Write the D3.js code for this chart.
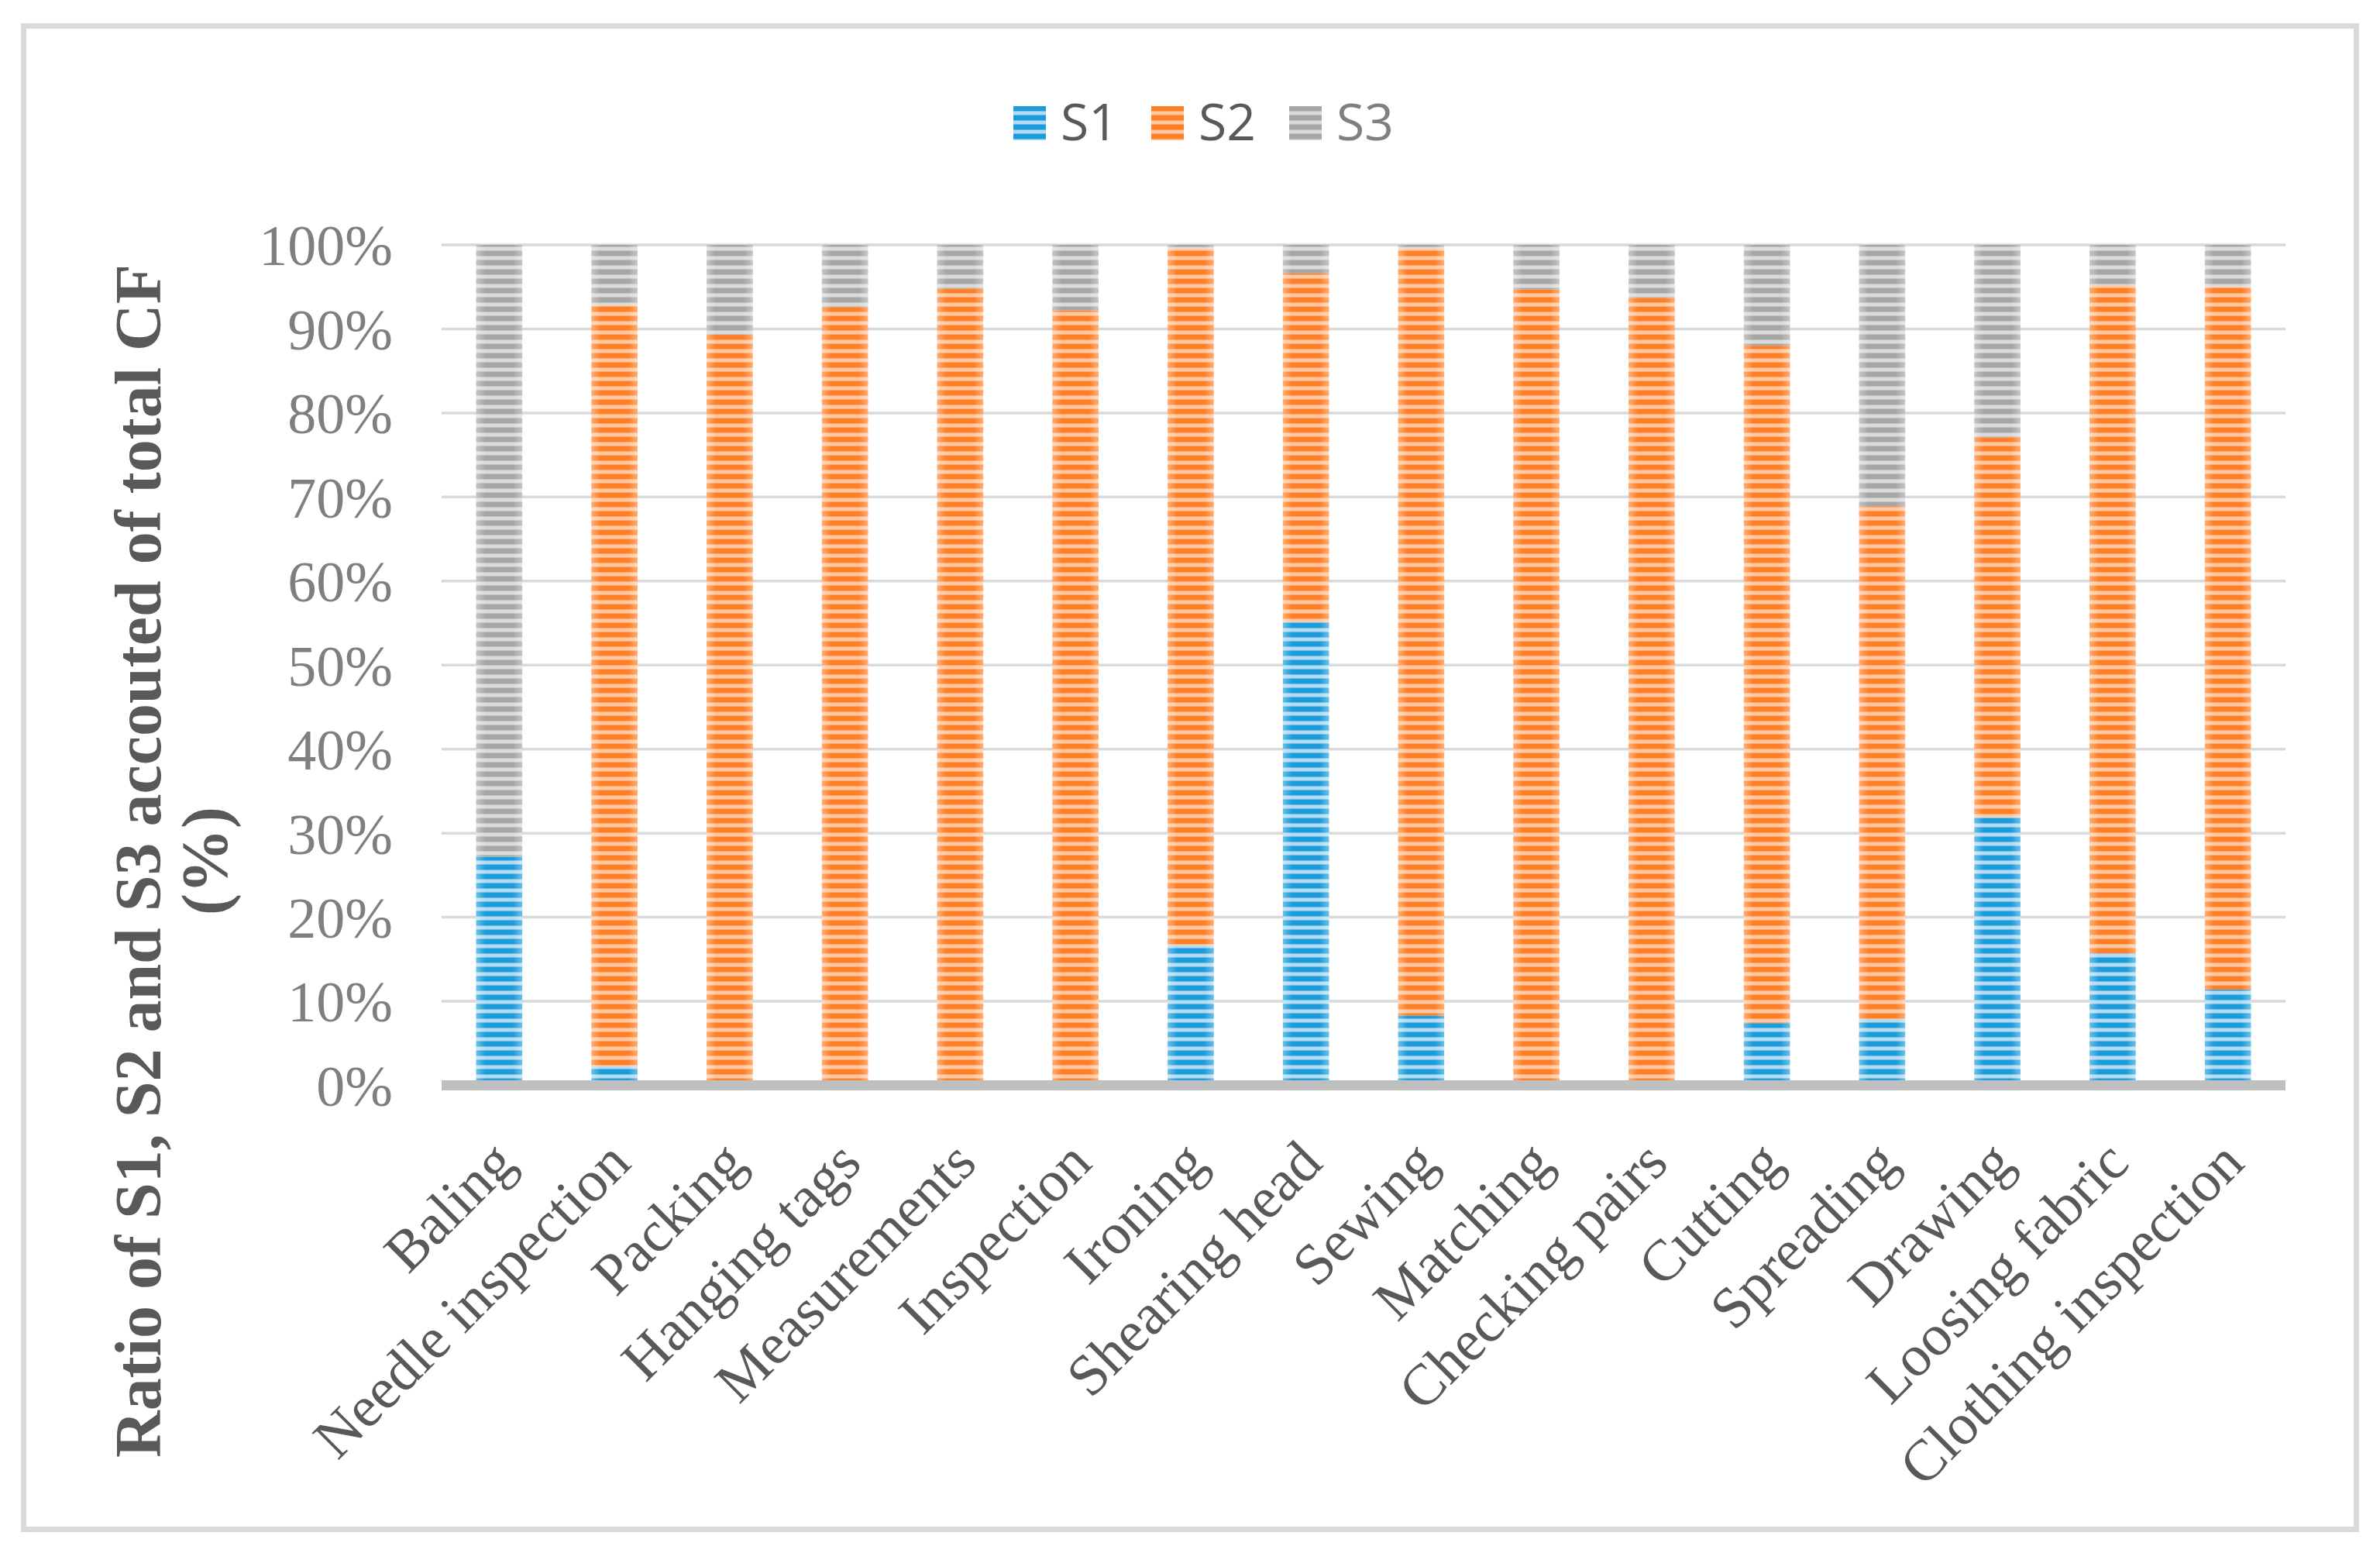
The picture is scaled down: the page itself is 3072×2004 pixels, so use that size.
<!DOCTYPE html>
<html>
<head>
<meta charset="utf-8">
<script src="https://cdn.jsdelivr.net/npm/d3@7"></script>
<style>
  body { margin: 0; background: #fff; }
  svg { display: block; }
</style>
</head>
<body>
<div id="chart"></div>
<script>
// data (percent of total CF)
const categories = ["Baling", "Needle inspection", "Packing", "Hanging tags", "Measurements",
	"Inspection", "Ironing", "Shearing head", "Sewing", "Matching", "Checking pairs",
	"Cutting", "Spreading", "Drawing", "Loosing fabric", "Clothing inspection"];
const s1 = [27.2, 2.3, 0, 0, 0, 0, 16.7, 55.1, 8.3, 0, 0, 7.4, 7.9, 31.9, 15.7, 11.4];
const s2 = [0, 90.5, 89.3, 92.6, 94.8, 92.2, 82.9, 41.5, 91.3, 94.7, 93.7, 80.6, 61.0, 45.2, 79.5, 83.6];
const s3 = [72.8, 7.2, 10.7, 7.4, 5.2, 7.8, 0.4, 3.4, 0.4, 5.3, 6.3, 12.0, 31.1, 22.9, 4.8, 5.0];
const seriesNames = ["S1", "S2", "S3"];
const yTicks = [0, 10, 20, 30, 40, 50, 60, 70, 80, 90, 100];

const width = 3072;
const height = 2004;
const margin = { left: 570, right: 122, top: 316, bottom: 604 };

// stripe colours: [dark, light]
const stripes = {
	S1: ["#1b9ddb", "#b4daf1"],
	S2: ["#ff7f27", "#ffc8a2"],
	S3: ["#a6a6a6", "#dadada"],
};
const legendText = { S1: "#595959", S2: "#595959", S3: "#808080" };

const rows = categories.map((c, i) => ({ cat: c, S1: s1[i], S2: s2[i], S3: s3[i] }));
const stacked = d3.stack().keys(seriesNames)(rows);

const svg = d3.select("#chart").append("svg")
	.attr("width", width)
	.attr("height", height);

const defs = svg.append("defs");
seriesNames.forEach((s) => {
	const p = defs.append("pattern")
		.attr("id", "pat-" + s)
		.attr("patternUnits", "userSpaceOnUse")
		.attr("width", 20)
		.attr("height", 12);
	p.append("rect").attr("width", 20).attr("height", 12).attr("fill", stripes[s][0]);
	p.append("rect").attr("y", 6.5).attr("width", 20).attr("height", 5).attr("fill", stripes[s][1]);
});
// soft left/right edges on the bars
const edge = defs.append("linearGradient").attr("id", "edge").attr("x1", 0).attr("x2", 1);
edge.append("stop").attr("offset", 0).attr("stop-color", "#fff").attr("stop-opacity", 0.35);
edge.append("stop").attr("offset", 0.2).attr("stop-color", "#fff").attr("stop-opacity", 0);
edge.append("stop").attr("offset", 0.8).attr("stop-color", "#fff").attr("stop-opacity", 0);
edge.append("stop").attr("offset", 1).attr("stop-color", "#fff").attr("stop-opacity", 0.35);

// outer border
svg.append("rect")
	.attr("x", 30.5).attr("y", 33.5)
	.attr("width", 3011).attr("height", 1940)
	.attr("fill", "#fff")
	.attr("stroke", "#d9d9d9")
	.attr("stroke-width", 7);

const x = d3.scaleBand()
	.domain(categories)
	.range([margin.left, width - margin.right])
	.paddingInner(0.6)
	.paddingOuter(0.3);

const y = d3.scaleLinear()
	.domain([0, 100])
	.range([1400.5, margin.top]);

// gridlines
svg.append("g")
	.selectAll("line")
	.data(yTicks.slice(1))
	.join("line")
	.attr("x1", margin.left)
	.attr("x2", width - margin.right)
	.attr("y1", (d) => y(d))
	.attr("y2", (d) => y(d))
	.attr("stroke", "#d9d9d9")
	.attr("stroke-width", 3.5);

// y axis labels
const yAxis = svg.append("g")
	.attr("transform", `translate(${margin.left},0)`)
	.call(d3.axisLeft(y).tickValues(yTicks).tickFormat((d) => d + "%").tickSize(0).tickPadding(63));
yAxis.select(".domain").remove();
yAxis.selectAll("text")
	.attr("font-family", "'Liberation Serif', 'Times New Roman', serif")
	.attr("font-size", 74)
	.attr("fill", "#7f7f7f")
	.attr("dy", "0.35em");

// bars
const layers = svg.append("g")
	.selectAll("g")
	.data(stacked)
	.join("g")
	.attr("fill", (d) => `url(#pat-${d.key})`);

layers.selectAll("rect")
	.data((d) => d.filter((v) => v[1] - v[0] > 0))
	.join("rect")
	.attr("x", (d) => x(d.data.cat))
	.attr("width", x.bandwidth())
	.attr("y", (d) => y(d[1]))
	.attr("height", (d) => y(d[0]) - y(d[1]));

svg.append("g")
	.selectAll("rect")
	.data(rows)
	.join("rect")
	.attr("x", (d) => x(d.cat))
	.attr("width", x.bandwidth())
	.attr("y", y(100))
	.attr("height", y(0) - y(100))
	.attr("fill", "url(#edge)");

// x axis baseline
svg.append("line")
	.attr("x1", margin.left)
	.attr("x2", width - margin.right)
	.attr("y1", y(0))
	.attr("y2", y(0))
	.attr("stroke", "#bfbfbf")
	.attr("stroke-width", 13);

// x labels, rotated
svg.append("g")
	.selectAll("text")
	.data(categories)
	.join("text")
	.attr("transform", (d) => `translate(${x(d) + x.bandwidth() / 2 + 24},1504) rotate(-45)`)
	.attr("text-anchor", "end")
	.attr("font-family", "'Liberation Serif', 'Times New Roman', serif")
	.attr("font-size", 75)
	.attr("fill", "#595959")
	.text((d) => d);

// y title
const yTitle = svg.append("text")
	.attr("transform", "translate(207,1111) rotate(-90)")
	.attr("text-anchor", "middle")
	.attr("font-family", "'Liberation Serif', 'Times New Roman', serif")
	.attr("font-weight", "bold")
	.attr("font-size", 84)
	.attr("fill", "#595959");
yTitle.append("tspan").attr("x", 0).attr("dy", 0).text("Ratio of S1, S2 and S3 accouted of total CF");
yTitle.append("tspan").attr("x", 0).attr("dy", 86).text("(%)");

// legend
const legend = svg.append("g")
	.selectAll("g")
	.data(seriesNames)
	.join("g")
	.attr("transform", (d, i) => `translate(${1308 + i * 178},137)`);
legend.append("rect")
	.attr("width", 42)
	.attr("height", 44)
	.attr("fill", (d) => `url(#pat-${d})`);
legend.append("text")
	.attr("x", 61)
	.attr("y", 44)
	.attr("font-family", "'Open Sans', 'Noto Sans', sans-serif")
	.attr("font-size", 66)
	.attr("fill", (d) => legendText[d])
	.text((d) => d);
</script>
</body>
</html>
